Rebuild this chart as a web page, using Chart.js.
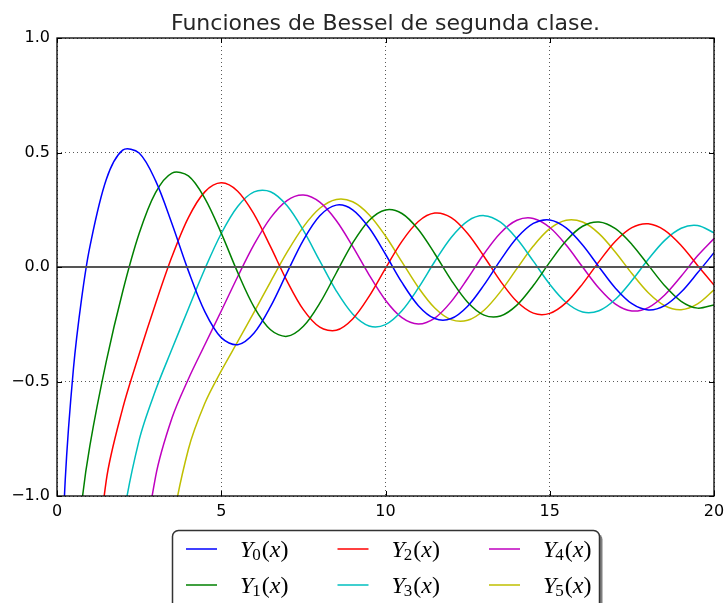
<!DOCTYPE html>
<html>
<head>
<meta charset="utf-8">
<script src="https://cdn.jsdelivr.net/npm/chart.js@4.4.0/dist/chart.umd.min.js"></script>
<style>
  body { margin: 0; background: #fff; }
  #wrap { width: 724px; height: 603px; }
</style>
</head>
<body>
<div id="wrap"><canvas id="chart" width="724" height="603"></canvas></div>
<script>
// sample points
const xs = [0.1, 0.25, 0.5, 0.75, 1, 1.5, 2, 2.5, 3, 3.5, 4, 4.5, 5, 5.5, 6, 6.5, 7, 7.5, 8, 8.5, 9, 9.5,
  10, 10.5, 11, 11.5, 12, 12.5, 13, 13.5, 14, 14.5, 15, 15.5, 16, 16.5, 17, 17.5, 18, 18.5, 19, 19.5, 20];

const y0 = [-1.5342, -0.9315, -0.4445, -0.1372, 0.0883, 0.3824, 0.5104, 0.4981, 0.3769, 0.1890, -0.0169, -0.1947,
  -0.3085, -0.3395, -0.2882, -0.1732, -0.0259, 0.1173, 0.2235, 0.2702, 0.2499, 0.1712, 0.0557, -0.0675, -0.1688,
  -0.2252, -0.2252, -0.1712, -0.0782, 0.0301, 0.1272, 0.1903, 0.2055, 0.1706, 0.0958, 0.0002, -0.0926, -0.1604,
  -0.1876, -0.1687, -0.1095, -0.0255, 0.0626];
const y1 = [null, -2.7041, -1.4715, -1.0376, -0.7812, -0.4123, -0.1070, 0.1459, 0.3247, 0.4102, 0.3979, 0.3001,
  0.1479, -0.0237, -0.1750, -0.2741, -0.3027, -0.2591, -0.1581, -0.0262, 0.1043, 0.2032, 0.2490, 0.2337, 0.1637,
  0.0579, -0.0571, -0.1538, -0.2101, -0.2140, -0.1666, -0.0810, 0.0212, 0.1148, 0.1779, 0.1965, 0.1672, 0.0986,
  0.0082, -0.0817, -0.1496, -0.1796, -0.1655];
const y2 = [null, null, null, -2.6298, -1.6507, -0.9322, -0.6174, -0.3813, -0.1604, 0.0454, 0.2159, 0.3281,
  0.3677, 0.3309, 0.2299, 0.0889, -0.0605, -0.1864, -0.2630, -0.2764, -0.2268, -0.1284, -0.0059, 0.1121, 0.1986,
  0.2353, 0.2157, 0.1466, 0.0459, -0.0618, -0.1510, -0.2015, -0.2026, -0.1558, -0.0736, 0.0236, 0.1123, 0.1717,
  0.1885, 0.1598, 0.0938, 0.0070, -0.0792];
const y3 = [null, null, null, null, null, -2.0736, -1.1278, -0.7561, -0.5385, -0.3583, -0.1820, -0.0085,
  0.1463, 0.2644, 0.3282, 0.3288, 0.2681, 0.1597, 0.0265, -0.1039, -0.2051, -0.2573, -0.2514, -0.1910, -0.0915,
  0.0239, 0.1290, 0.2008, 0.2243, 0.1957, 0.1234, 0.0255, -0.0752, -0.1550, -0.1963, -0.1908, -0.1408, -0.0593,
  0.0337, 0.1163, 0.1693, 0.1810, 0.1497];
const y4 = [null, null, null, null, null, null, -2.7660, -1.4332, -0.9167, -0.6597, -0.4890, -0.3394,
  -0.1921, -0.0425, 0.0984, 0.2146, 0.2903, 0.3142, 0.2830, 0.2030, 0.0900, -0.0340, -0.1450, -0.2212, -0.2485,
  -0.2228, -0.1512, -0.0503, 0.0576, 0.1488, 0.2039, 0.2120, 0.1726, 0.0958, -0.0001, -0.0930, -0.1620, -0.1920,
  -0.1772, -0.1221, -0.0403, 0.0487, 0.1241];
const y5 = [null, null, null, null, null, null, null, null, -1.9059, -1.1495, -0.7959, -0.5949,
  -0.4537, -0.3261, -0.1971, -0.0647, 0.0637, 0.1754, 0.2564, 0.2950, 0.2851, 0.2286, 0.1354, 0.0225, -0.0893,
  -0.1789, -0.2298, -0.2329, -0.1888, -0.1076, -0.0069, 0.0915, 0.1673, 0.2045, 0.1963, 0.1457, 0.0645, -0.0285,
  -0.1125, -0.1691, -0.1863, -0.1610, -0.1000];

const series = [y0, y1, y2, y3, y4, y5];
const orders = ['0', '1', '2', '3', '4', '5'];
const colors = ['#0000ff', '#008000', '#ff0000', '#00bfbf', '#bf00bf', '#bfbf00'];
const xTicks = [0, 5, 10, 15, 20];
const yTicks = [-1, -0.5, 0, 0.5, 1];
const title = 'Funciones de Bessel de segunda clase.';

const datasets = series.map((ys, i) => ({
    label: 'Y' + orders[i] + '(x)',
    data: xs.map((x, j) => ({ x: x, y: ys[j] })),
    borderColor: colors[i],
    borderWidth: 1.5,
    pointRadius: 0,
    fill: false,
    tension: 0.33
}));

const decor = {
    id: 'decor',
    afterDatasetsDraw(chart) {
        const { ctx, chartArea: a, scales } = chart;
        const zy = scales.y.getPixelForValue(0);
        ctx.save();
        ctx.strokeStyle = '#555';
        ctx.lineWidth = 2.2;
        ctx.beginPath();
        ctx.moveTo(a.left, zy);
        ctx.lineTo(a.right, zy);
        ctx.stroke();

        ctx.strokeStyle = '#000';
        ctx.lineWidth = 1.3;
        ctx.strokeRect(a.left, a.top, a.right - a.left, a.bottom - a.top);

        // inward tick marks on all four sides
        ctx.lineWidth = 1;
        ctx.beginPath();
        xTicks.forEach(v => {
            const px = Math.round(scales.x.getPixelForValue(v)) + 0.5;
            ctx.moveTo(px, a.bottom); ctx.lineTo(px, a.bottom - 5);
            ctx.moveTo(px, a.top); ctx.lineTo(px, a.top + 5);
        });
        yTicks.forEach(v => {
            const py = Math.round(scales.y.getPixelForValue(v)) + 0.5;
            ctx.moveTo(a.left, py); ctx.lineTo(a.left + 5, py);
            ctx.moveTo(a.right, py); ctx.lineTo(a.right - 5, py);
        });
        ctx.stroke();
        ctx.restore();
    },
    afterDraw(chart) {
        const { ctx, chartArea: a } = chart;
        ctx.save();
        ctx.fillStyle = '#262626';
        ctx.font = '22px "DejaVu Sans"';
        ctx.textAlign = 'center';
        ctx.textBaseline = 'alphabetic';
        ctx.fillText(title, (a.left + a.right) / 2, 30);

        // legend box with shadow
        const bx = 172.5, by = 530.5, bw = 427, bh = 90;
        ctx.fillStyle = 'rgba(0,0,0,0.5)';
        ctx.beginPath();
        ctx.roundRect(bx + 3, by + 3, bw, bh, 6);
        ctx.fill();
        ctx.fillStyle = '#fff';
        ctx.strokeStyle = '#333';
        ctx.lineWidth = 1.5;
        ctx.beginPath();
        ctx.roundRect(bx, by, bw, bh, 6);
        ctx.fill();
        ctx.stroke();

        ctx.textAlign = 'left';
        chart.data.datasets.forEach((ds, i) => {
            const col = Math.floor(i / 2), row = i % 2;
            const lx = 186 + col * 151.5;
            const ly = 549 + row * 36;
            ctx.strokeStyle = ds.borderColor;
            ctx.lineWidth = 1.5;
            ctx.beginPath();
            ctx.moveTo(lx, ly);
            ctx.lineTo(lx + 31, ly);
            ctx.stroke();

            let tx = lx + 54;
            const base = ly + 8;
            ctx.fillStyle = '#000';
            ctx.font = 'italic 24px "Liberation Serif"';
            ctx.fillText('Y', tx, base);
            tx += ctx.measureText('Y').width - 1;
            ctx.font = '17px "Liberation Serif"';
            ctx.fillText(orders[i], tx, base + 3);
            tx += ctx.measureText(orders[i]).width + 1;
            ctx.font = '24px "Liberation Serif"';
            ctx.fillText('(', tx, base);
            tx += ctx.measureText('(').width;
            ctx.font = 'italic 24px "Liberation Serif"';
            ctx.fillText('x', tx, base);
            tx += ctx.measureText('x').width;
            ctx.font = '24px "Liberation Serif"';
            ctx.fillText(')', tx, base);
        });
        ctx.restore();
    }
};

new Chart(document.getElementById('chart'), {
    type: 'line',
    data: { datasets: datasets },
    plugins: [decor],
    options: {
        responsive: false,
        animation: false,
        layout: { padding: { top: 38, right: 10, left: 0, bottom: 0 } },
        elements: { line: { capBezierPoints: false } },
        plugins: {
            legend: { display: false },
            title: { display: false },
            tooltip: { enabled: false }
        },
        scales: {
            x: {
                type: 'linear',
                min: 0,
                max: 20,
                afterBuildTicks: s => { s.ticks = xTicks.map(v => ({ value: v })); },
                afterFit: s => { s.height = 107; s.paddingLeft = 0; s.paddingRight = 0; },
                ticks: {
                    color: '#000',
                    font: { family: 'DejaVu Sans', size: 16 },
                    padding: 6,
                    maxRotation: 0,
                    callback: v => String(v)
                },
                grid: { color: 'rgba(0,0,0,0.65)', lineWidth: 1, drawTicks: false },
                border: { display: false, dash: [1, 3] }
            },
            y: {
                type: 'linear',
                min: -1,
                max: 1,
                afterBuildTicks: s => { s.ticks = yTicks.map(v => ({ value: v })); },
                afterFit: s => { s.width = 57; s.paddingTop = 0; s.paddingBottom = 0; },
                ticks: {
                    color: '#000',
                    font: { family: 'DejaVu Sans', size: 16 },
                    padding: 7,
                    callback: v => (v < 0 ? '\u2212' : '') + Math.abs(v).toFixed(1)
                },
                grid: { color: 'rgba(0,0,0,0.65)', lineWidth: 1, drawTicks: false },
                border: { display: false, dash: [1, 3] }
            }
        }
    }
});
</script>
</body>
</html>
